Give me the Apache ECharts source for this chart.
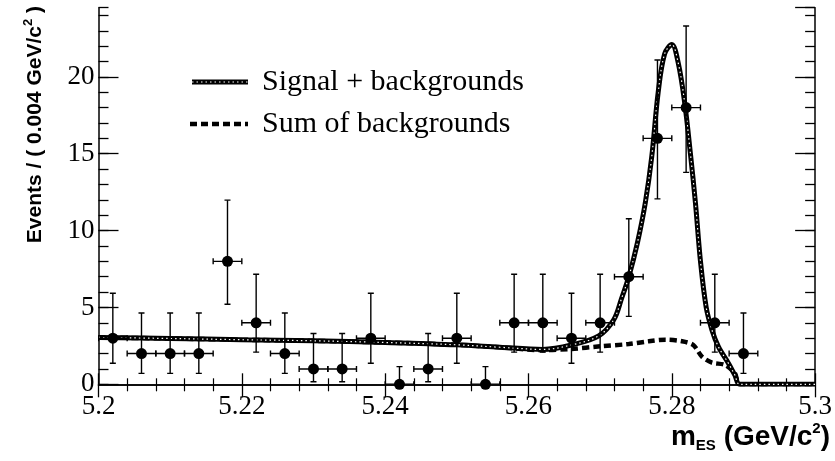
<!DOCTYPE html>
<html>
<head>
<meta charset="utf-8">
<script src="https://cdn.jsdelivr.net/npm/echarts@6/dist/echarts.min.js"></script>
<style>
  html, body { margin: 0; padding: 0; background: #fff; }
  #chart { width: 835px; height: 461px; }
</style>
</head>
<body>
<div id="chart"></div>
<script>
// Binned m_ES data (0.004 GeV/c^2 bins)
const binWidth = 0.004;
const binCenters = [5.202, 5.206, 5.210, 5.214, 5.218, 5.222, 5.226, 5.230, 5.234, 5.238, 5.242, 5.246,
                    5.250, 5.254, 5.258, 5.262, 5.266, 5.270, 5.274, 5.278, 5.282, 5.286, 5.290];
const eventCounts = [3, 2, 2, 2, 8, 4, 2, 1, 1, 3, 0, 1, 3, 0, 4, 4, 3, 4, 7, 16, 18, 4, 2];
// Asymmetric (Poisson) error-bar bounds per bin
const errLowBound  = [1.37, 0.71, 0.71, 0.71, 5.21, 2.09, 0.71, 0.17, 0.17, 1.37, 0, 0.17,
                      1.37, 0, 2.09, 2.09, 1.37, 2.09, 4.42, 12.06, 13.79, 2.09, 0.71];
const errHighBound = [5.92, 4.64, 4.64, 4.64, 11.98, 7.16, 4.64, 3.30, 3.30, 5.92, 1.15, 3.30,
                      5.92, 1.15, 7.16, 7.16, 5.92, 7.16, 10.77, 21.10, 23.31, 7.16, 4.64];

// Fit projections
const bkgX = [5.200, 5.210, 5.220, 5.230, 5.240, 5.250, 5.256, 5.262, 5.266, 5.270, 5.274,
              5.2768, 5.2791, 5.2814, 5.2830, 5.2842, 5.2856, 5.2874, 5.2888, 5.2895, 5.300];
const bkgY = [3.05, 2.98, 2.90, 2.83, 2.72, 2.57, 2.41, 2.22, 2.30, 2.47, 2.62,
              2.80, 2.90, 2.80, 2.56, 1.80, 1.41, 1.26, 0.72, 0.00, 0.00];

const totalX = [5.200, 5.210, 5.220, 5.230, 5.240, 5.250, 5.256, 5.262, 5.266, 5.2698, 5.2719,
                5.2730, 5.2740, 5.2752, 5.2763, 5.2772, 5.2781, 5.2790, 5.2800, 5.2809,
                5.2818, 5.2826, 5.2833, 5.2840, 5.2848, 5.2856, 5.2865, 5.2879, 5.2888, 5.2895, 5.300];
const totalY = [3.05, 2.98, 2.90, 2.83, 2.72, 2.57, 2.41, 2.27, 2.56, 3.15, 4.20,
                5.60, 7.00, 9.20, 11.80, 14.80, 19.00, 21.50, 22.10, 20.90,
                18.30, 15.00, 11.80, 8.00, 5.00, 3.54, 2.45, 1.37, 0.60, 0.00, 0.00];

const xTicks = { min: 5.2, max: 5.3, step: 0.02 };
const yTicks = { min: 0, max: 24.5, major: 5, minor: 1 };

const legendLabels = ['Signal + backgrounds', 'Sum of backgrounds'];

const zip = (a, b) => a.map((v, i) => [v, b[i]]);
const pointData = binCenters.map((x, i) => [x, eventCounts[i], errLowBound[i], errHighBound[i]]);

const serif = 'Liberation Serif';
const sans = 'Liberation Sans';
const ink = '#000';

const frameLine = { show: true, lineStyle: { color: ink, width: 1.5 } };

function xAxisDef(pos, showLabels, majorLen, minorLen) {
  return {
    type: 'value', position: pos,
    min: xTicks.min, max: xTicks.max, interval: xTicks.step,
    axisLine: frameLine,
    axisTick: { show: true, inside: true, length: majorLen, lineStyle: { color: ink, width: 1.3 } },
    minorTick: { show: true, splitNumber: 5, length: minorLen, lineStyle: { color: ink, width: 1.2 } },
    splitLine: { show: false },
    axisLabel: {
      show: showLabels, margin: 9, color: ink, fontFamily: serif, fontSize: 27,
      formatter: v => String(+v.toFixed(2))
    }
  };
}

function yAxisDef(pos, step, len, showLabels, showLine) {
  return {
    type: 'value', position: pos,
    min: yTicks.min, max: yTicks.max, interval: step,
    axisLine: showLine ? frameLine : { show: false },
    axisTick: { show: true, inside: true, length: len, lineStyle: { color: ink, width: 1.3 } },
    splitLine: { show: false },
    axisLabel: {
      show: showLabels, margin: 4, color: ink, fontFamily: serif, fontSize: 27,
      showMaxLabel: false
    }
  };
}

const chart = echarts.init(document.getElementById('chart'), null, { renderer: 'canvas' });

chart.setOption({
  animation: false,
  backgroundColor: '#fff',
  grid: { left: 98.5, right: 18, top: 7.7, bottom: 76.7, containLabel: false },
  xAxis: [
    xAxisDef('bottom', true, 11, 6),
    xAxisDef('top', false, 13, 7)
  ],
  yAxis: [
    yAxisDef('left', yTicks.major, 20, true, true),
    yAxisDef('left', yTicks.minor, 10, false, false),
    yAxisDef('right', yTicks.major, 20, false, true),
    yAxisDef('right', yTicks.minor, 10, false, false)
  ],
  series: [
    {
      name: legendLabels[1], type: 'line', data: zip(bkgX, bkgY),
      smooth: 0.3, symbol: 'none', clip: true, z: 2,
      lineStyle: { color: ink, width: 4.5, type: [7, 4] }
    },
    {
      name: legendLabels[0], type: 'line', data: zip(totalX, totalY),
      smooth: 0.35, symbol: 'none', clip: true, z: 3,
      lineStyle: { color: ink, width: 5 }
    },
    {
      name: legendLabels[0] + ' core', type: 'line', data: zip(totalX, totalY),
      smooth: 0.35, symbol: 'none', clip: true, z: 4,
      lineStyle: { color: '#fff', width: 1.2, type: [1.5, 3] }
    },
    {
      name: 'errors', type: 'custom', data: pointData, clip: true, z: 5,
      renderItem: function (params, api) {
        const x = api.value(0), y = api.value(1), lo = api.value(2), hi = api.value(3);
        const c = api.coord([x, y]);
        const pLo = api.coord([x, lo]);
        const pHi = api.coord([x, hi]);
        const pL = api.coord([x - binWidth / 2, y]);
        const pR = api.coord([x + binWidth / 2, y]);
        const cap = 3;
        const st = { stroke: ink, lineWidth: 1.4 };
        const seg = (x1, y1, x2, y2) => ({ type: 'line', shape: { x1, y1, x2, y2 }, style: st });
        return {
          type: 'group',
          children: [
            seg(pLo[0], pLo[1], pHi[0], pHi[1]),
            seg(pHi[0] - cap, pHi[1], pHi[0] + cap, pHi[1]),
            seg(pLo[0] - cap, pLo[1], pLo[0] + cap, pLo[1]),
            seg(pL[0], pL[1], pR[0], pR[1]),
            seg(pL[0], c[1] - cap, pL[0], c[1] + cap),
            seg(pR[0], c[1] - cap, pR[0], c[1] + cap)
          ]
        };
      }
    },
    {
      name: 'data', type: 'scatter', data: zip(binCenters, eventCounts),
      symbol: 'circle', symbolSize: 11, clip: false, z: 6,
      itemStyle: { color: ink, opacity: 1 }
    }
  ],
  graphic: [
    // legend samples
    { type: 'line', shape: { x1: 192, y1: 82, x2: 248, y2: 82 }, style: { stroke: ink, lineWidth: 5 } },
    { type: 'line', shape: { x1: 192, y1: 82, x2: 248, y2: 82 }, style: { stroke: '#fff', lineWidth: 1.2, lineDash: [1.5, 3] } },
    { type: 'text', x: 262, y: 82, style: { text: legendLabels[0], fill: ink, font: '30px "Liberation Serif"', align: 'left', verticalAlign: 'middle' } },
    { type: 'line', shape: { x1: 190, y1: 124, x2: 248, y2: 124 }, style: { stroke: ink, lineWidth: 4.5, lineDash: [7, 4] } },
    { type: 'text', x: 262, y: 124, style: { text: legendLabels[1], fill: ink, font: '30px "Liberation Serif"', align: 'left', verticalAlign: 'middle' } },
    // axis titles
    {
      type: 'text', x: 830, y: 437,
      style: {
        text: '{b|m}{s|ES}{b| (GeV/c}{p|2}{b|)}',
        align: 'right', verticalAlign: 'middle', fill: ink,
        rich: {
          b: { fontFamily: sans, fontWeight: 'bold', fontSize: 28, lineHeight: 32, fill: ink },
          s: { fontFamily: sans, fontWeight: 'bold', fontSize: 15, lineHeight: 14, verticalAlign: 'bottom', fill: ink },
          p: { fontFamily: sans, fontWeight: 'bold', fontSize: 15, lineHeight: 15, verticalAlign: 'top', fill: ink }
        }
      }
    },
    {
      type: 'text', x: 35, y: 6, rotation: Math.PI / 2,
      style: {
        text: '{b|Events / ( 0.004 GeV/c}{p|2}{b| )}',
        align: 'right', verticalAlign: 'middle', fill: ink,
        rich: {
          b: { fontFamily: sans, fontWeight: 'bold', fontSize: 21, lineHeight: 26, fill: ink },
          p: { fontFamily: sans, fontWeight: 'bold', fontSize: 13, lineHeight: 13, verticalAlign: 'top', fill: ink }
        }
      }
    }
  ]
});
</script>
</body>
</html>
